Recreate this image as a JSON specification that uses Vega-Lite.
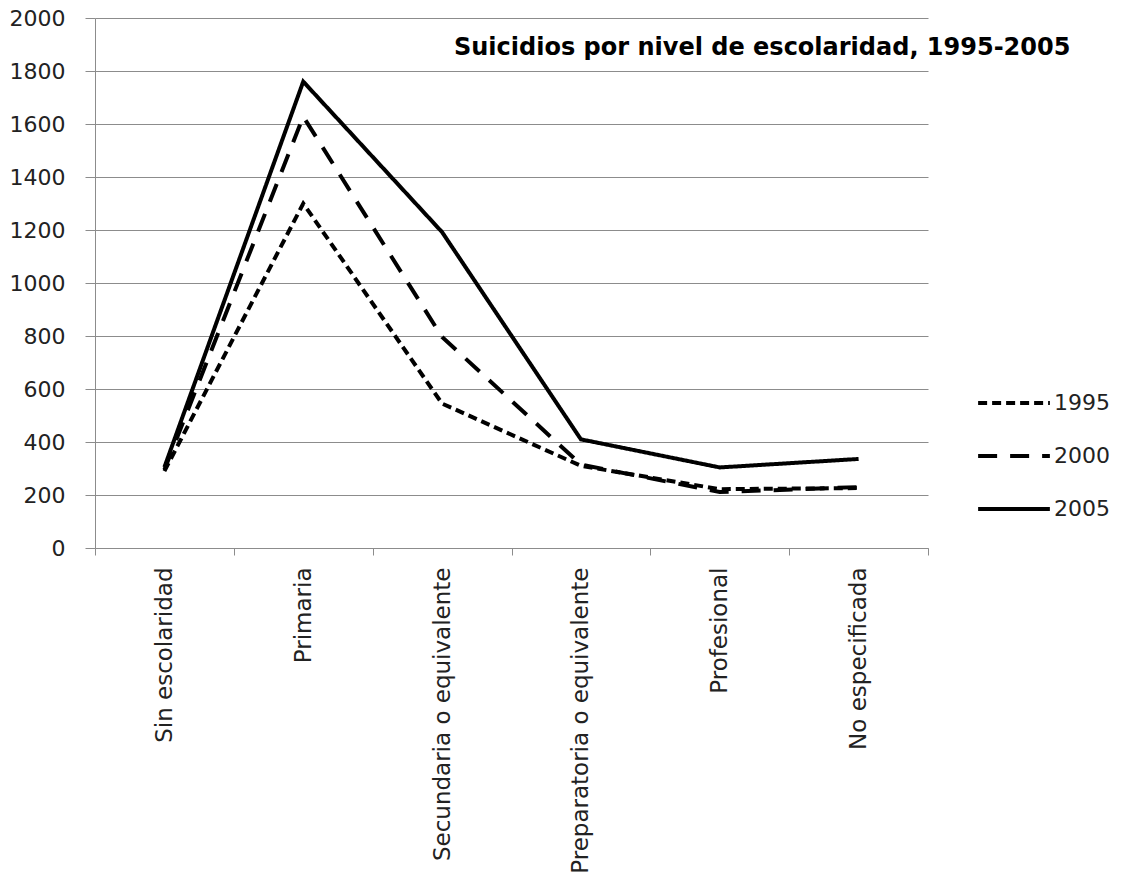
{
  "$schema": "https://vega.github.io/schema/vega-lite/v6.json",
  "autosize": "none",
  "width": 833,
  "height": 530,
  "padding": {"left": 95, "top": 18, "right": 199, "bottom": 340},
  "background": "white",
  "config": {
    "view": {"stroke": null},
    "font": "DejaVu Sans"
  },
  "title": {
    "text": "Suicidios por nivel de escolaridad, 1995-2005",
    "anchor": "start",
    "frame": "group",
    "orient": "top",
    "offset": 0,
    "baseline": "alphabetic",
    "dx": 359,
    "dy": 72,
    "font": "DejaVu Sans",
    "fontSize": 24,
    "fontWeight": "bold",
    "color": "#000000"
  },
  "data": {
    "values": [
      {"nivel": "Sin escolaridad", "anio": "1995", "suicidios": 290},
      {"nivel": "Primaria", "anio": "1995", "suicidios": 1300},
      {"nivel": "Secundaria o equivalente", "anio": "1995", "suicidios": 545},
      {"nivel": "Preparatoria o equivalente", "anio": "1995", "suicidios": 310},
      {"nivel": "Profesional", "anio": "1995", "suicidios": 222},
      {"nivel": "No especificada", "anio": "1995", "suicidios": 226},
      {"nivel": "Sin escolaridad", "anio": "2000", "suicidios": 295},
      {"nivel": "Primaria", "anio": "2000", "suicidios": 1628},
      {"nivel": "Secundaria o equivalente", "anio": "2000", "suicidios": 796},
      {"nivel": "Preparatoria o equivalente", "anio": "2000", "suicidios": 315},
      {"nivel": "Profesional", "anio": "2000", "suicidios": 211},
      {"nivel": "No especificada", "anio": "2000", "suicidios": 230},
      {"nivel": "Sin escolaridad", "anio": "2005", "suicidios": 305},
      {"nivel": "Primaria", "anio": "2005", "suicidios": 1760},
      {"nivel": "Secundaria o equivalente", "anio": "2005", "suicidios": 1192},
      {"nivel": "Preparatoria o equivalente", "anio": "2005", "suicidios": 410},
      {"nivel": "Profesional", "anio": "2005", "suicidios": 304},
      {"nivel": "No especificada", "anio": "2005", "suicidios": 336}
    ]
  },
  "mark": {"type": "line", "color": "#000000", "strokeWidth": 4, "strokeCap": "butt", "strokeJoin": "miter"},
  "encoding": {
    "x": {
      "field": "nivel",
      "type": "nominal",
      "sort": ["Sin escolaridad", "Primaria", "Secundaria o equivalente", "Preparatoria o equivalente", "Profesional", "No especificada"],
      "scale": {"type": "band", "paddingInner": 0, "paddingOuter": 0},
      "axis": {
        "title": null,
        "labelAngle": -90,
        "labelAlign": "right",
        "labelBaseline": "middle",
        "labelFont": "DejaVu Sans",
        "labelFontSize": 23,
        "labelColor": "#222222",
        "labelPadding": 12,
        "labelLimit": 400,
        "tickBand": "extent",
        "tickSize": 7,
        "tickColor": "#8c8c8c",
        "domainColor": "#8c8c8c",
        "domainWidth": 1,
        "grid": false
      }
    },
    "y": {
      "field": "suicidios",
      "type": "quantitative",
      "scale": {"domain": [0, 2000], "nice": false},
      "axis": {
        "title": null,
        "format": "d",
        "values": [0, 200, 400, 600, 800, 1000, 1200, 1400, 1600, 1800, 2000],
        "labelFont": "DejaVu Sans",
        "labelFontSize": 22,
        "labelColor": "#222222",
        "labelPadding": 20,
        "tickSize": 10,
        "tickColor": "#8c8c8c",
        "domainColor": "#8c8c8c",
        "grid": true,
        "gridColor": "#8c8c8c",
        "gridWidth": 1
      }
    },
    "strokeDash": {
      "field": "anio",
      "type": "nominal",
      "scale": {"domain": ["1995", "2000", "2005"], "range": [[9, 5], [19, 13], [1, 0]]},
      "legend": {
        "title": null,
        "orient": "none",
        "legendX": 891,
        "legendY": 357,
        "symbolType": "M-1.38,0H1.38",
        "symbolSize": 2704,
        "symbolStrokeWidth": 4,
        "symbolStrokeColor": "#000000",
        "symbolFillColor": "transparent",
        "labelFont": "DejaVu Sans",
        "labelFontSize": 22,
        "labelColor": "#222222",
        "labelOffset": 12,
        "rowPadding": 14,
        "padding": 0
      }
    }
  }
}
